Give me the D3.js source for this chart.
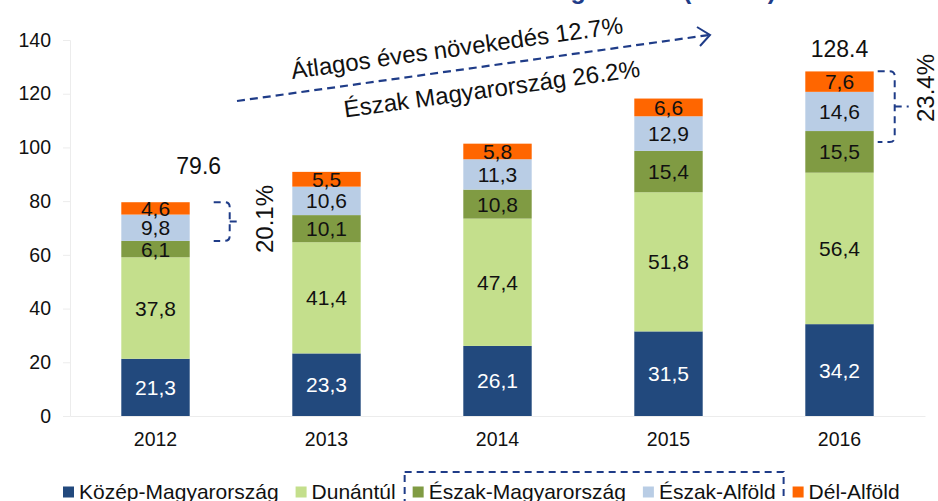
<!DOCTYPE html>
<html>
<head>
<meta charset="utf-8">
<script src="https://cdn.jsdelivr.net/npm/d3@7"></script>
<style>
  html, body { margin: 0; padding: 0; background: #fff; }
  svg { display: block; font-family: "Liberation Sans", Arial, sans-serif; }
</style>
</head>
<body>
<svg id="chart" width="938" height="501"></svg>
<script>
const years = ["2012", "2013", "2014", "2015", "2016"];
const seriesNames = ["Közép-Magyarország", "Dunántúl", "Észak-Magyarország", "Észak-Alföld", "Dél-Alföld"];
const kozepMagyarorszag = [21.3, 23.3, 26.1, 31.5, 34.2];
const dunantul = [37.8, 41.4, 47.4, 51.8, 56.4];
const eszakMagyarorszag = [6.1, 10.1, 10.8, 15.4, 15.5];
const eszakAlfold = [9.8, 10.6, 11.3, 12.9, 14.6];
const delAlfold = [4.6, 5.5, 5.8, 6.6, 7.6];
const totalLabels = [{year: "2012", text: "79.6"}, {year: "2016", text: "128.4"}];
const yTicks = [0, 20, 40, 60, 80, 100, 120, 140];
const colors = ["#22497D", "#C4DF8C", "#809B43", "#B9CDE5", "#FF6600"];
const labelColors = ["#ffffff", "#111111", "#111111", "#111111", "#111111"];

const seriesValues = [kozepMagyarorszag, dunantul, eszakMagyarorszag, eszakAlfold, delAlfold];
const table = years.map((yr, i) => {
  const row = {year: yr};
  seriesNames.forEach((s, j) => row[s] = seriesValues[j][i]);
  return row;
});

const svg = d3.select("#chart");
const x = d3.scaleBand().domain(years).range([70, 925]).paddingInner(0.6).paddingOuter(0.3);
const y = d3.scaleLinear().domain([0, 140]).range([416, 40]);
const navy = "#1F3C88";

// partially visible title at the top (cut off in the original)
svg.append("text")
  .attr("x", 776).attr("y", -1)
  .attr("text-anchor", "end")
  .attr("font-size", 25).attr("font-weight", "bold")
  .attr("fill", navy)
  .text("Beruházások megoszlása (Mrd Ft)");

// y axis
const yAxis = svg.append("g").attr("transform", "translate(70,0)")
  .call(d3.axisLeft(y).tickValues(yTicks).tickSize(7).tickPadding(12).tickFormat(d3.format("d")));
yAxis.select(".domain").attr("stroke", "#ececec");
yAxis.selectAll(".tick line").attr("stroke", "#ececec");
yAxis.selectAll(".tick text").attr("font-size", 19.5).attr("fill", "#111")
  .style("font-family", "'Liberation Sans', Arial, sans-serif");

// x axis
const xAxis = svg.append("g").attr("transform", "translate(0,416)")
  .call(d3.axisBottom(x).tickSize(0).tickPadding(16));
xAxis.select(".domain").attr("stroke", "#ececec");
xAxis.selectAll(".tick text").attr("font-size", 19.5).attr("fill", "#111")
  .style("font-family", "'Liberation Sans', Arial, sans-serif");

// stacked bars
const stack = d3.stack().keys(seriesNames)(table);
const fmt = v => d3.format(".1f")(v).replace(".", ",");
stack.forEach((layer, j) => {
  const g = svg.append("g");
  g.selectAll("rect").data(layer).join("rect")
    .attr("x", d => x(d.data.year))
    .attr("width", x.bandwidth())
    .attr("y", d => y(d[1]))
    .attr("height", d => y(d[0]) - y(d[1]))
    .attr("fill", colors[j]);
  g.selectAll("text").data(layer).join("text")
    .attr("x", d => x(d.data.year) + x.bandwidth() / 2)
    .attr("y", d => (y(d[0]) + y(d[1])) / 2)
    .attr("text-anchor", "middle")
    .attr("dominant-baseline", "central")
    .attr("font-size", 21)
    .attr("fill", labelColors[j])
    .text(d => fmt(d[1] - d[0]));
});

// totals
const totalsByYear = {};
stack[stack.length - 1].forEach(d => totalsByYear[d.data.year] = d[1]);
svg.selectAll(".total").data(totalLabels).join("text")
  .attr("class", "total")
  .attr("x", d => d.year === "2012" ? x(d.year) + x.bandwidth() + 9 : x(d.year) + x.bandwidth() / 2)
  .attr("y", d => d.year === "2012" ? y(totalsByYear[d.year]) - 36 : y(totalsByYear[d.year]) - 22)
  .attr("text-anchor", "middle")
  .attr("dominant-baseline", "central")
  .attr("font-size", 23)
  .attr("fill", "#111")
  .text(d => d.text);

// growth arrow
svg.append("line")
  .attr("x1", 237).attr("y1", 101).attr("x2", 709).attr("y2", 35)
  .attr("stroke", navy).attr("stroke-width", 2.2).attr("stroke-dasharray", "8,5");
svg.append("path")
  .attr("d", "M697,27 L710,35 L700,46")
  .attr("fill", "none").attr("stroke", navy).attr("stroke-width", 2);

svg.append("text")
  .attr("transform", "translate(458,56) rotate(-7.9)")
  .attr("text-anchor", "middle")
  .attr("font-size", 24).attr("fill", "#111")
  .text("Átlagos éves növekedés 12.7%");
svg.append("text")
  .attr("transform", "translate(493,97) rotate(-7.9)")
  .attr("text-anchor", "middle")
  .attr("font-size", 24).attr("fill", "#111")
  .text("Észak Magyarország 26.2%");

// brackets
function bracket(x0, xs, xt, y0, y1) {
  const ym = (y0 + y1) / 2;
  const r = 5;
  svg.append("path")
    .attr("d", `M${x0},${y0} H${xs - r} Q${xs},${y0} ${xs},${y0 + r} V${y1 - r} Q${xs},${y1} ${xs - r},${y1} H${x0} M${xs},${ym} H${xt}`)
    .attr("fill", "none").attr("stroke", navy).attr("stroke-width", 2)
    .attr("stroke-dasharray", "7,5");
}
const b12 = x("2012") + x.bandwidth();
bracket(b12 + 24, b12 + 40, b12 + 50, y(79.6), y(65.2));
const b16 = x("2016") + x.bandwidth();
bracket(b16 + 4, b16 + 21, b16 + 35, y(128.4), y(102));

svg.append("text")
  .attr("transform", "translate(264,219) rotate(-90)")
  .attr("text-anchor", "middle").attr("dominant-baseline", "central")
  .attr("font-size", 24).attr("fill", "#111")
  .text("20.1%");
svg.append("text")
  .attr("transform", "translate(925,88) rotate(-90)")
  .attr("text-anchor", "middle").attr("dominant-baseline", "central")
  .attr("font-size", 24).attr("fill", "#111")
  .text("23.4%");

// legend
const legend = svg.append("g");
let lx = 63;
const ly = 492;
const sq = 11;
const itemPos = [];
seriesNames.forEach((name, j) => {
  legend.append("rect").attr("x", lx).attr("y", ly - sq / 2).attr("width", sq).attr("height", sq).attr("fill", colors[j]);
  const t = legend.append("text").attr("x", lx + sq + 5).attr("y", ly - 1)
    .attr("dominant-baseline", "central").attr("font-size", 21).attr("fill", "#111").text(name);
  const w = t.node().getComputedTextLength();
  itemPos.push({start: lx, end: lx + sq + 5 + w});
  lx += sq + 5 + w + 17;
});
legend.append("rect")
  .attr("x", itemPos[2].start - 8).attr("y", 472)
  .attr("width", itemPos[3].end - itemPos[2].start + 16).attr("height", 34)
  .attr("fill", "none").attr("stroke", navy).attr("stroke-width", 2).attr("stroke-dasharray", "7,5");
</script>
</body>
</html>
